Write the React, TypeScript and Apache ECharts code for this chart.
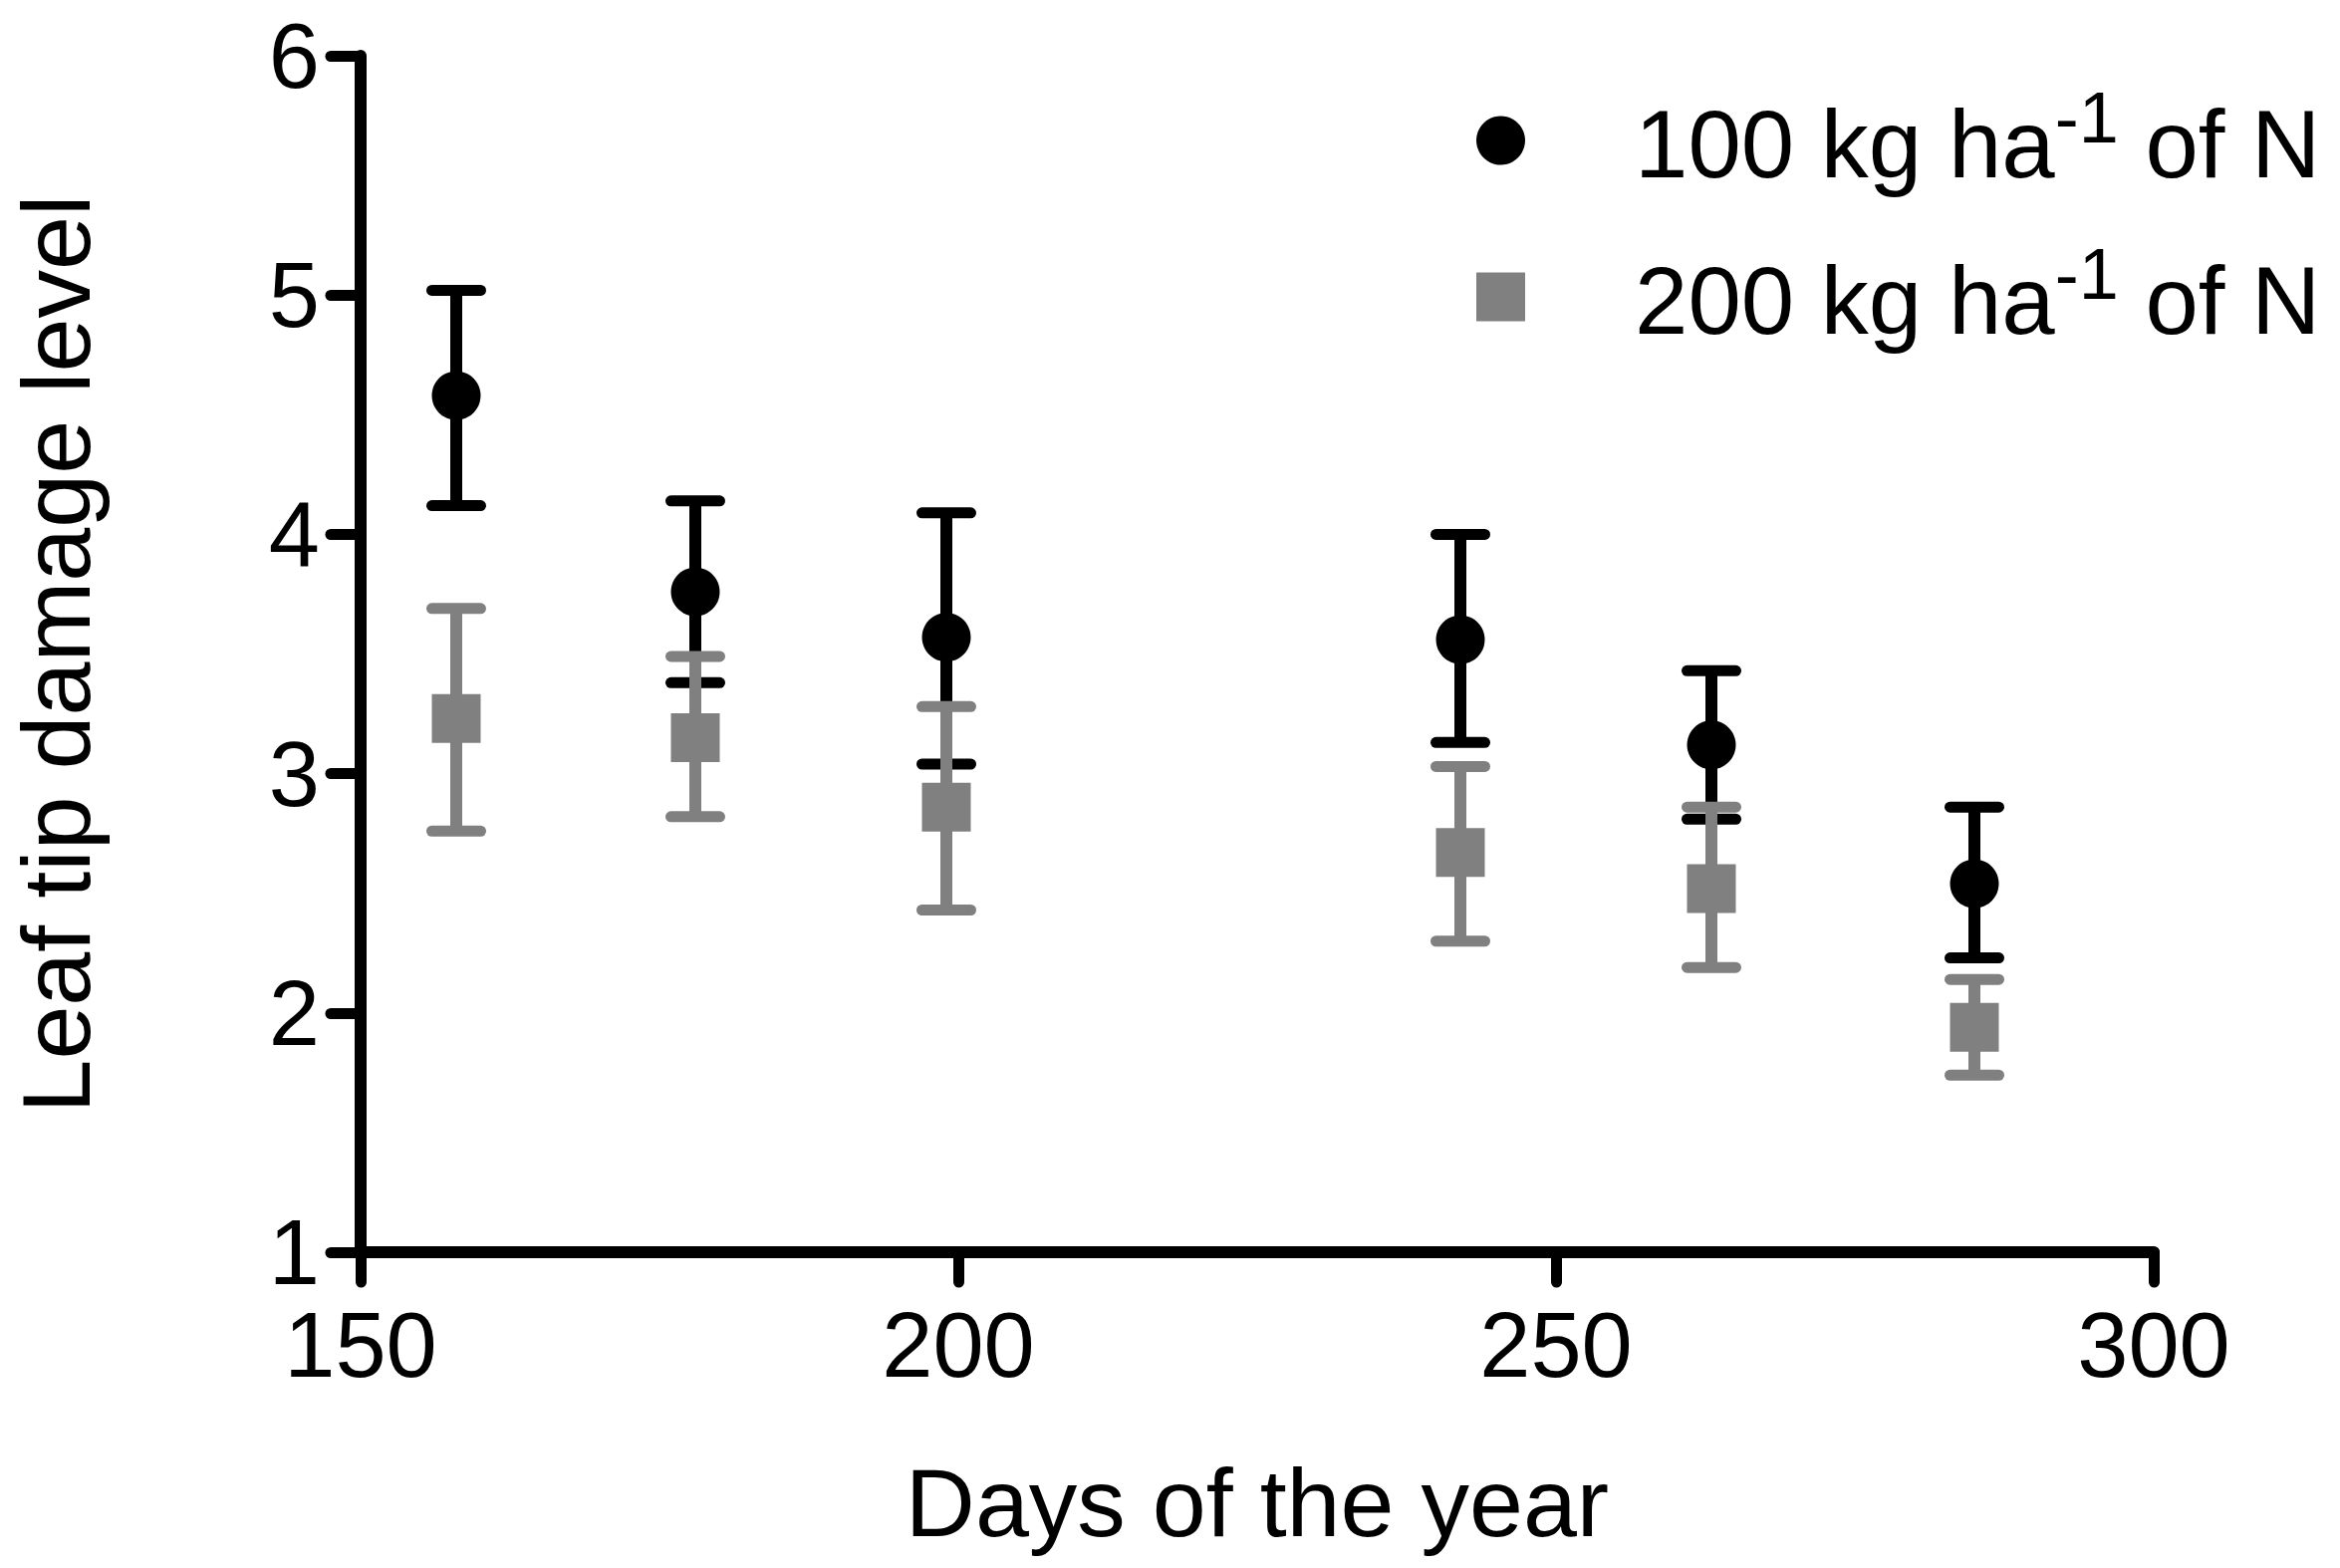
import React, { useEffect, useRef } from "react";
import * as echarts from "echarts";

const days = [158, 178, 199, 242, 263, 285];
const mean100 = [4.58, 3.76, 3.57, 3.56, 3.12, 2.54];
const upper100 = [5.02, 4.14, 4.09, 4.0, 3.43, 2.86];
const lower100 = [4.12, 3.38, 3.04, 3.13, 2.81, 2.23];
const mean200 = [3.23, 3.15, 2.86, 2.67, 2.52, 1.94];
const upper200 = [3.69, 3.49, 3.28, 3.03, 2.86, 2.14];
const lower200 = [2.76, 2.82, 2.43, 2.3, 2.19, 1.74];
const xTicks = [150, 200, 250, 300];
const yTicks = [1, 2, 3, 4, 5, 6];

const N100 = "100 kg ha-1 of N";
const N200 = "200 kg ha-1 of N";
const xTitle = "Days of the year";
const yTitle = "Leaf tip damage level";

const FONT = "'Liberation Sans', Arial, Helvetica, sans-serif";
const BLACK = "#000000";
const GREY = "#808080";

function errorSeries(lower: number[], upper: number[], color: string) {
  return {
    type: "custom",
    name: "err-" + color,
    data: days.map((d, i) => [d, lower[i], upper[i]]),
    encode: { x: 0, y: [1, 2] },
    renderItem: (params: any, api: any) => {
      const x = api.value(0);
      const top = api.coord([x, api.value(2)]);
      const bot = api.coord([x, api.value(1)]);
      const hw = 24.5;
      return {
        type: "group",
        children: [
          {
            type: "line",
            shape: { x1: top[0], y1: top[1], x2: bot[0], y2: bot[1] },
            style: { stroke: color, lineWidth: 12 },
          },
          {
            type: "line",
            shape: { x1: top[0] - hw, y1: top[1], x2: top[0] + hw, y2: top[1] },
            style: { stroke: color, lineWidth: 11, lineCap: "round" },
          },
          {
            type: "line",
            shape: { x1: bot[0] - hw, y1: bot[1], x2: bot[0] + hw, y2: bot[1] },
            style: { stroke: color, lineWidth: 11, lineCap: "round" },
          },
        ],
      };
    },
    z: 2,
  };
}

export default function App() {
  const ref = useRef<HTMLDivElement>(null);
  useEffect(() => {
    if (!ref.current) return;
    const chart = echarts.init(ref.current, null, { renderer: "svg" });
    const option: any = {
      animation: false,
      backgroundColor: "#ffffff",
      grid: { left: 360, right: 187, top: 56, bottom: 317, containLabel: false },
      legend: {
        data: [
          { name: N100, icon: "circle" },
          { name: N200, icon: "rect" },
        ],
        orient: "vertical",
        left: 1477,
        top: 77,
        itemWidth: 49,
        itemHeight: 49,
        itemGap: 47,
        selectedMode: false,
        formatter: (name: string) => {
          const parts = name.split("-1");
          return `{t0|${parts[0]}}{s|-1}{t|${parts[1]}}`;
        },
        textStyle: {
          fontFamily: FONT,
          color: BLACK,
          rich: {
            t0: { fontFamily: FONT, fontSize: 96, lineHeight: 100, color: BLACK, padding: [6, 0, 0, 105] },
            t: { fontFamily: FONT, fontSize: 96, lineHeight: 100, color: BLACK, padding: [6, 0, 0, 0] },
            s: { fontFamily: FONT, fontSize: 72, lineHeight: 100, height: 54, color: BLACK, verticalAlign: "top" },
          },
        },
      },
      xAxis: {
        type: "value",
        min: xTicks[0],
        max: xTicks[xTicks.length - 1],
        interval: 50,
        name: xTitle,
        nameLocation: "middle",
        nameGap: 203,
        nameTextStyle: { fontFamily: FONT, fontSize: 97, color: BLACK },
        splitLine: { show: false },
        axisLine: { show: true, onZero: false, lineStyle: { color: BLACK, width: 12, cap: "round" } },
        axisTick: { show: true, length: 30, lineStyle: { color: BLACK, width: 11, cap: "round" } },
        axisLabel: { fontFamily: FONT, fontSize: 92, color: BLACK, margin: 47 },
      },
      yAxis: {
        type: "value",
        min: yTicks[0],
        max: yTicks[yTicks.length - 1],
        interval: 1,
        name: yTitle,
        nameLocation: "middle",
        nameGap: 257,
        nameTextStyle: { fontFamily: FONT, fontSize: 97, color: BLACK },
        splitLine: { show: false },
        axisLine: { show: true, onZero: false, lineStyle: { color: BLACK, width: 12, cap: "round" } },
        axisTick: { show: true, length: 30, lineStyle: { color: BLACK, width: 11, cap: "round" } },
        axisLabel: { fontFamily: FONT, fontSize: 92, color: BLACK, margin: 41 },
      },
      series: [
        errorSeries(lower100, upper100, BLACK),
        {
          type: "scatter",
          name: N100,
          data: days.map((d, i) => [d, mean100[i]]),
          symbol: "circle",
          symbolSize: 49,
          itemStyle: { color: BLACK, opacity: 1 },
          z: 3,
        },
        errorSeries(lower200, upper200, GREY),
        {
          type: "scatter",
          name: N200,
          data: days.map((d, i) => [d, mean200[i]]),
          symbol: "rect",
          symbolSize: 49,
          itemStyle: { color: GREY, opacity: 1 },
          z: 4,
        },
      ],
    };
    chart.setOption(option);
    return () => chart.dispose();
  }, []);
  return (
    <div
      ref={ref}
      style={{ position: "absolute", left: 0, top: 0, width: 2349, height: 1574, background: "#fff" }}
    />
  );
}
